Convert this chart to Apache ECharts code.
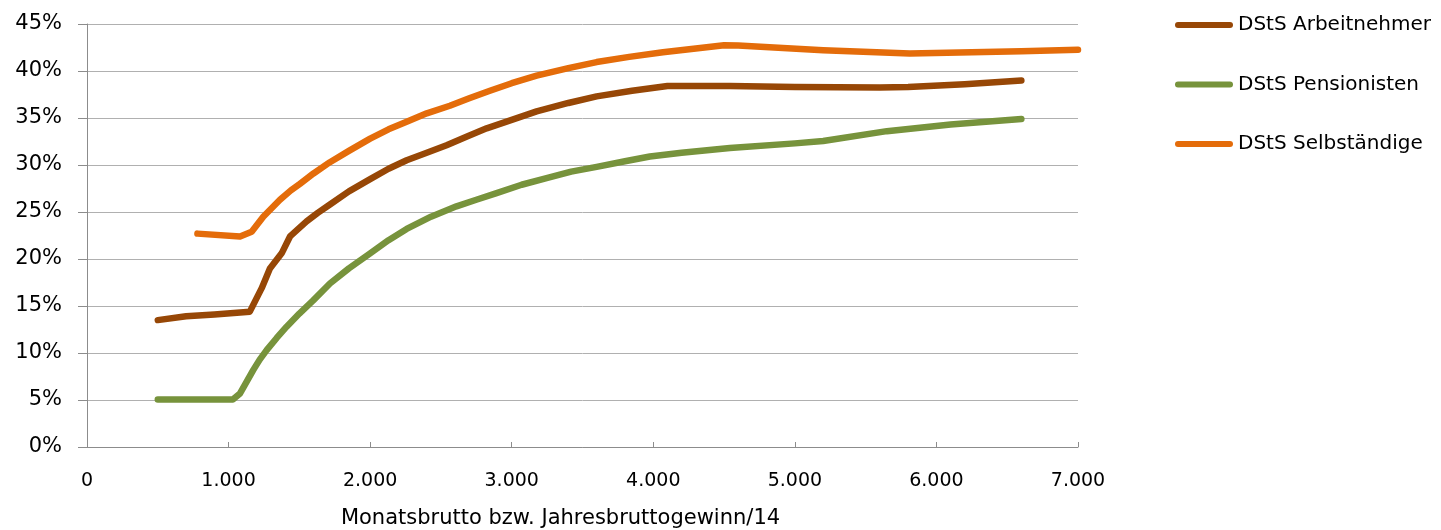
<!DOCTYPE html>
<html>
<head>
<meta charset="utf-8">
<script src="https://cdn.jsdelivr.net/npm/echarts@6/dist/echarts.min.js"></script>
<style>
  html, body { margin: 0; padding: 0; background: #fff; }
  #chart { width: 1441px; height: 530px; }
</style>
</head>
<body>
<div id="chart"></div>
<script>
// Durchschnittssteuersatz (DStS) in % über dem Monatsbrutto
const seriesNames = ['DStS Arbeitnehmer', 'DStS Pensionisten', 'DStS Selbständige'];

const arbeitnehmer = [
  [500, 13.5], [700, 13.9], [900, 14.1], [1150, 14.4], [1234, 16.9], [1292, 19.0],
  [1375, 20.6], [1434, 22.4], [1551, 24.0], [1630, 24.9], [1716, 25.8], [1850, 27.2],
  [2000, 28.5], [2130, 29.6], [2258, 30.5], [2400, 31.3], [2540, 32.1], [2680, 33.0],
  [2823, 33.9], [3000, 34.8], [3176, 35.7], [3400, 36.6], [3600, 37.3], [3850, 37.9],
  [4100, 38.4], [4541, 38.4], [5000, 38.3], [5600, 38.25], [5800, 38.3], [6200, 38.6],
  [6600, 39.0]
];

const pensionisten = [
  [500, 5.05], [1030, 5.05], [1081, 5.7], [1130, 7.0], [1175, 8.2], [1220, 9.3],
  [1269, 10.3], [1340, 11.6], [1410, 12.8], [1500, 14.2], [1598, 15.6], [1716, 17.4],
  [1850, 19.0], [2000, 20.6], [2130, 22.0], [2258, 23.2], [2430, 24.5], [2610, 25.6],
  [2750, 26.3], [2893, 27.0], [3070, 27.9], [3246, 28.6], [3420, 29.3], [3600, 29.8],
  [3800, 30.4], [3976, 30.9], [4200, 31.3], [4541, 31.8], [5000, 32.3], [5200, 32.55],
  [5650, 33.6], [6100, 34.3], [6600, 34.9]
];

const selbstaendige = [
  [780, 22.7], [1081, 22.4], [1163, 22.9], [1245, 24.5], [1363, 26.3], [1440, 27.3],
  [1504, 28.0], [1600, 29.1], [1716, 30.3], [1850, 31.5], [2000, 32.8], [2130, 33.8],
  [2258, 34.6], [2400, 35.5], [2563, 36.3], [2700, 37.1], [2846, 37.9], [3000, 38.7],
  [3176, 39.5], [3400, 40.3], [3600, 40.95], [3830, 41.5], [4068, 42.0], [4300, 42.4],
  [4500, 42.75], [4600, 42.7], [5200, 42.2], [5812, 41.85], [6600, 42.1], [7000, 42.25]
];

const seriesColors = ['#974706', '#77933C', '#E46C0A'];
const xTicks = { min: 0, max: 7000, step: 1000 };
const yTicks = { min: 0, max: 45, step: 5 };
const xAxisTitle = 'Monatsbrutto bzw. Jahresbruttogewinn/14';

const FONT = '"DejaVu Sans", Verdana, sans-serif';
const chart = echarts.init(document.getElementById('chart'), null, { renderer: 'canvas' });

const fmtThousands = v => String(v).replace(/\B(?=(\d{3})+(?!\d))/g, '.');
const capsule = 'path://M3,0 H55 A3,3 0 0 1 55,6 H3 A3,3 0 0 1 3,0 Z';

const mkLine = (name, data, color) => ({
  name, type: 'line', data,
  showSymbol: false, symbol: 'none',
  smooth: false,
  lineStyle: { color, width: 6.5, cap: 'round', join: 'round' },
  itemStyle: { color },
  emphasis: { disabled: true },
  clip: true,
  animation: false
});

chart.setOption({
  animation: false,
  textStyle: { fontFamily: FONT },
  grid: { left: 87, right: 363, top: 24, bottom: 83, containLabel: false, outerBoundsMode: 'none' },
  legend: {
    orient: 'vertical',
    left: 1170, top: 10,
    itemWidth: 58, itemHeight: 7,
    itemGap: 39.5,
    icon: capsule,
    textStyle: { fontFamily: FONT, fontSize: 20, color: '#000' },
    data: seriesNames
  },
  xAxis: {
    type: 'value',
    min: xTicks.min, max: xTicks.max, interval: xTicks.step,
    name: xAxisTitle,
    nameLocation: 'middle',
    nameGap: 61,
    nameTextStyle: { fontFamily: FONT, fontSize: 21, color: '#000', padding: [0, 44, 0, 0] },
    axisLine: { show: true, lineStyle: { color: '#8C8C8C', width: 1 } },
    axisTick: { show: true, inside: true, length: 5, lineStyle: { color: '#8C8C8C' } },
    axisLabel: { fontFamily: FONT, fontSize: 19, color: '#000', margin: 25, formatter: fmtThousands },
    splitLine: { show: false }
  },
  yAxis: {
    type: 'value',
    min: yTicks.min, max: yTicks.max, interval: yTicks.step,
    axisLine: { show: true, lineStyle: { color: '#8C8C8C', width: 1 } },
    axisTick: { show: true, inside: false, length: 9, lineStyle: { color: '#8C8C8C' } },
    axisLabel: { fontFamily: FONT, fontSize: 21, color: '#000', margin: 25, formatter: v => v + '%' },
    splitLine: { show: true, lineStyle: { color: '#B0B0B0', width: 1 } }
  },
  series: [
    mkLine(seriesNames[0], arbeitnehmer, seriesColors[0]),
    mkLine(seriesNames[1], pensionisten, seriesColors[1]),
    mkLine(seriesNames[2], selbstaendige, seriesColors[2])
  ]
});
</script>
</body>
</html>
